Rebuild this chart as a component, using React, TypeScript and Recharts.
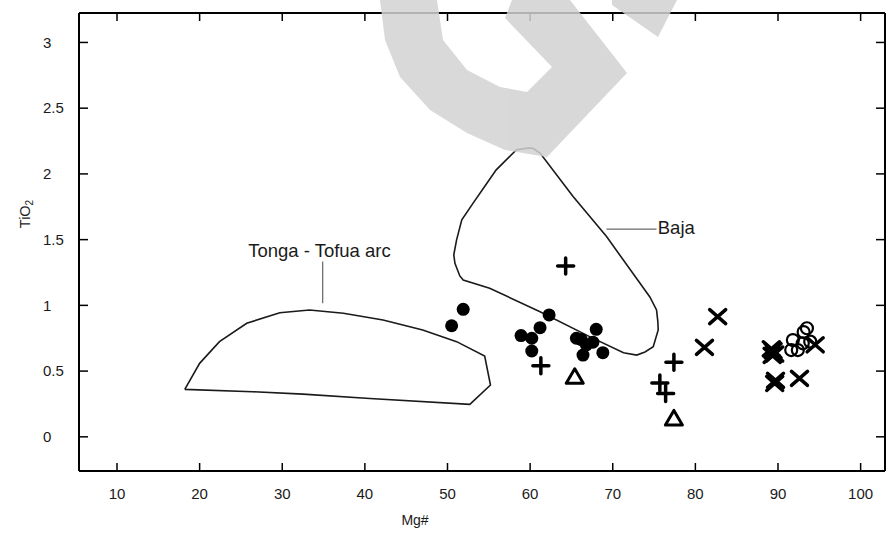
import { ScatterChart, Scatter, XAxis, YAxis } from "recharts";

const xTicks = [10, 20, 30, 40, 50, 60, 70, 80, 90, 100];
const yTicks = [0, 0.5, 1, 1.5, 2, 2.5, 3];

// field outlines (closed)
const tongaField: [number, number][] = [
  [18.2, 0.361], [20.0, 0.559], [22.4, 0.724], [25.7, 0.864], [29.7, 0.944],
  [33.3, 0.965], [37.4, 0.94], [42.2, 0.889], [47.0, 0.813], [51.1, 0.724],
  [54.5, 0.615], [55.2, 0.394], [52.7, 0.247], [40.6, 0.292], [32.5, 0.325],
  [26.4, 0.343], [18.2, 0.361],
];
const bajaField: [number, number][] = [
  [59.76, 2.196], [60.33, 2.195], [61.2, 2.158], [65.2, 1.828], [69.25, 1.523],
  [73.3, 1.168], [74.49, 1.064], [75.3, 0.965], [75.46, 0.874], [75.5, 0.813],
  [74.9, 0.685], [73.9, 0.645], [72.9, 0.622], [71.3, 0.64], [67.2, 0.762],
  [61.2, 0.952], [55.1, 1.13], [51.9, 1.193], [51.49, 1.224], [50.9, 1.32],
  [50.76, 1.384], [51.1, 1.498], [51.73, 1.65], [53.1, 1.778], [54.64, 1.917],
  [55.9, 2.031], [58.35, 2.184], [59.76, 2.196],
];
const tongaLeader: [number, number][] = [[34.9, 1.333], [34.9, 1.016]];
const bajaLeader: [number, number][] = [[69.25, 1.58], [75.3, 1.58]];
const fieldLabels = [
  { x: 34.5, y: 1.37, text: "Tonga - Tofua arc", anchor: "middle" },
  { x: 75.45, y: 1.545, text: "Baja", anchor: "start" },
];

// samples
const filledCircles: [number, number][] = [
  [51.9, 0.97], [50.5, 0.845], [62.3, 0.927], [61.2, 0.83], [58.9, 0.77],
  [60.2, 0.75], [60.2, 0.653], [65.6, 0.75], [68.0, 0.818], [66.8, 0.7],
  [66.4, 0.622], [68.8, 0.64], [67.6, 0.72], [66.2, 0.74],
];
const plusMarks: [number, number][] = [
  [64.3, 1.3], [61.3, 0.54], [77.4, 0.567], [75.7, 0.41], [76.4, 0.33],
];
const triangles: [number, number][] = [[65.4, 0.457], [77.4, 0.14]];
const crosses: [number, number][] = [
  [82.7, 0.914], [81.1, 0.68], [89.4, 0.655], [89.2, 0.67], [89.6, 0.63],
  [89.3, 0.62], [89.7, 0.43], [89.6, 0.406], [92.6, 0.445], [94.5, 0.7],
];
const openCircles: [number, number][] = [
  [93.5, 0.826], [93.1, 0.797], [91.8, 0.736], [91.6, 0.66], [93.0, 0.711],
  [93.9, 0.724], [92.4, 0.66],
];

const toPts = (a: [number, number][]) => a.map(([x, y]) => ({ x, y }));

const INK = "#1a1a1a";
const FONT = "'Liberation Sans', Arial, sans-serif";

const Empty = () => <g />;

const FilledCircle = (p: any) => <circle cx={p.cx} cy={p.cy} r={6.5} fill="#000" />;
const OpenCircle = (p: any) => (
  <circle cx={p.cx} cy={p.cy} r={6} fill="none" stroke="#000" strokeWidth={2.2} />
);
const Plus = (p: any) => (
  <path
    d={`M${p.cx - 8},${p.cy}L${p.cx + 8},${p.cy}M${p.cx},${p.cy - 8}L${p.cx},${p.cy + 8}`}
    stroke="#000"
    strokeWidth={3.5}
    strokeLinecap="round"
  />
);
const Cross = (p: any) => (
  <path
    d={`M${p.cx - 8},${p.cy - 7}L${p.cx + 8},${p.cy + 7}M${p.cx - 8},${p.cy + 7}L${p.cx + 8},${p.cy - 7}`}
    stroke="#000"
    strokeWidth={3.5}
    strokeLinecap="round"
  />
);
const Triangle = (p: any) => (
  <path
    d={`M${p.cx},${p.cy - 8}L${p.cx + 8.5},${p.cy + 6.5}L${p.cx - 8.5},${p.cy + 6.5}Z`}
    fill="none"
    stroke="#000"
    strokeWidth={3}
    strokeLinejoin="round"
  />
);
const FieldText = (p: any) => (
  <text
    x={p.cx}
    y={p.cy}
    textAnchor={p.payload.anchor}
    fontFamily={FONT}
    fontSize={18.5}
    fill={INK}
  >
    {p.payload.text}
  </text>
);

const XTick = (p: any) => (
  <text x={p.x} y={p.y + 34} textAnchor="middle" fontFamily={FONT} fontSize={15} fill={INK}>
    {p.payload.value}
  </text>
);
const YTick = (p: any) => (
  <text x={p.x - 45} y={p.y} dy="0.35em" textAnchor="start" fontFamily={FONT} fontSize={15} fill={INK}>
    {p.payload.value}
  </text>
);

const YTitle = (p: any) => {
  const vb = p.viewBox;
  const cx = vb.x + 5;
  const cy = vb.y + vb.height / 2 - 28;
  return (
    <text
      transform={`translate(${cx},${cy}) rotate(-90)`}
      textAnchor="middle"
      dy="0.35em"
      fontFamily={FONT}
      fontSize={14.5}
      fill={INK}
    >
      TiO<tspan fontSize={10} dy={3}>2</tspan>
    </text>
  );
};
const XTitle = (p: any) => {
  const vb = p.viewBox;
  return (
    <text
      x={vb.x + vb.width / 2 - 67}
      y={vb.y + 54}
      textAnchor="middle"
      fontFamily={FONT}
      fontSize={14}
      fill={INK}
    >
      Mg#
    </text>
  );
};

const axisLine = { stroke: "#000", strokeWidth: 2 };
const tickLine = { stroke: "#000", strokeWidth: 1.5 };
const xDomain = [5.4, 102.95];
const yDomain = [-0.26, 3.224];

export default function App() {
  const outline = { stroke: INK, strokeWidth: 1.6, fill: "none" };
  return (
    <div style={{ position: "absolute", left: 0, top: 0, width: 887, height: 534, background: "#fff" }}>
      <ScatterChart width={887} height={534} margin={{ top: 0, right: 0, bottom: 13, left: 20 }}>
        <XAxis
          type="number"
          dataKey="x"
          domain={xDomain}
          ticks={xTicks}
          allowDataOverflow
          axisLine={axisLine}
          tickLine={tickLine}
          tickSize={-8}
          tick={<XTick />}
          height={50}
          label={<XTitle />}
        />
        <XAxis
          xAxisId="top"
          orientation="top"
          type="number"
          dataKey="x"
          domain={xDomain}
          ticks={xTicks}
          allowDataOverflow
          axisLine={axisLine}
          tickLine={tickLine}
          tickSize={-8}
          tick={<Empty />}
          height={13}
        />
        <YAxis
          type="number"
          dataKey="y"
          domain={yDomain}
          ticks={yTicks}
          allowDataOverflow
          axisLine={axisLine}
          tickLine={tickLine}
          tickSize={-9}
          tickMargin={0}
          tick={<YTick />}
          width={59}
          label={<YTitle />}
        />
        <YAxis
          yAxisId="right"
          orientation="right"
          type="number"
          dataKey="y"
          domain={yDomain}
          ticks={yTicks}
          allowDataOverflow
          axisLine={axisLine}
          tickLine={tickLine}
          tickSize={-9}
          tick={<Empty />}
          width={2}
        />
        <Scatter data={toPts(tongaField)} line={outline} shape={<Empty />} isAnimationActive={false} />
        <Scatter data={toPts(bajaField)} line={outline} shape={<Empty />} isAnimationActive={false} />
        <Scatter data={toPts(tongaLeader)} line={{ stroke: "#444", strokeWidth: 1 }} shape={<Empty />} isAnimationActive={false} />
        <Scatter data={toPts(bajaLeader)} line={{ stroke: "#444", strokeWidth: 1 }} shape={<Empty />} isAnimationActive={false} />
        <Scatter data={fieldLabels} shape={<FieldText />} isAnimationActive={false} />
        <Scatter data={toPts(filledCircles)} shape={<FilledCircle />} isAnimationActive={false} />
        <Scatter data={toPts(plusMarks)} shape={<Plus />} isAnimationActive={false} />
        <Scatter data={toPts(triangles)} shape={<Triangle />} isAnimationActive={false} />
        <Scatter data={toPts(crosses)} shape={<Cross />} isAnimationActive={false} />
        <Scatter data={toPts(openCircles)} shape={<OpenCircle />} isAnimationActive={false} />
      </ScatterChart>
      <svg
        width={887}
        height={534}
        style={{ position: "absolute", left: 0, top: 0, pointerEvents: "none" }}
      >
        <g fill="#d2d2d2" opacity={0.85}>
          <path d="M380,0L437,0L443,40L467,70L500,87L527,92L552,67L505,18L512,0L570,0L627,73L547,157L505,150L467,133L430,110L400,77L385,40Z" />
          <path d="M612,0L677,0L658,37L612,5Z" />
        </g>
      </svg>
    </div>
  );
}
